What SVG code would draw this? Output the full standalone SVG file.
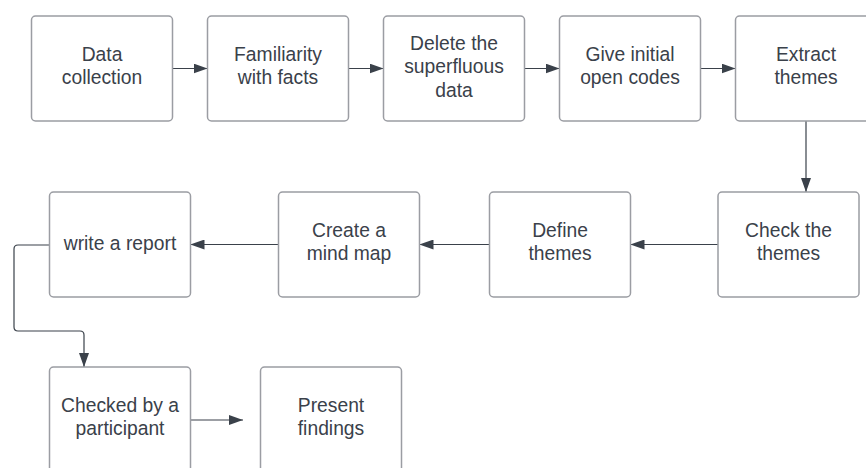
<svg xmlns="http://www.w3.org/2000/svg" width="866" height="468" viewBox="0 0 866 468">
  <style>
    .box { fill: #ffffff; stroke: #9b9da3; stroke-width: 1.5; }
    .lbl { font-family: "Liberation Sans", Arial, sans-serif; font-size: 19.3px; fill: #3a414a; text-anchor: middle; }
    .conn { fill: none; stroke: #3a414a; stroke-width: 1.2; marker-end: url(#arrow); }
  </style>
  <defs>
    <marker id="arrow" markerUnits="userSpaceOnUse" markerWidth="14" markerHeight="10" refX="14" refY="5" orient="auto">
      <path d="M0,0 L14,5 L0,10 Z" fill="#3a414a"/>
    </marker>
  </defs>
  <rect width="866" height="468" fill="#ffffff"/>

  <!-- connectors -->
  <g id="connectors">
    <path class="conn" d="M172.5,68.5 H207.5"/>
    <path class="conn" d="M348.5,68.5 H383.5"/>
    <path class="conn" d="M524.5,68.5 H559.5"/>
    <path class="conn" d="M700.5,68.5 H735.5"/>
    <path class="conn" d="M806,121 V192"/>
    <path class="conn" d="M718,244.5 H630.5"/>
    <path class="conn" d="M489.5,244.5 H419.5"/>
    <path class="conn" d="M278.5,244.5 H190.5"/>
    <path class="conn" d="M49.5,245 H18 Q14,245 14,249 V327 Q14,331 18,331 H80 Q84,331 84,335 V367"/>
    <path class="conn" d="M190.5,420 H243"/>
  </g>

  <!-- row 1 -->
  <g id="data-collection">
    <rect class="box" x="31.5" y="16" width="141" height="105" rx="4"/>
    <text class="lbl" x="102" y="61">Data</text>
    <text class="lbl" x="102" y="84.3">collection</text>
  </g>
  <g id="familiarity">
    <rect class="box" x="207.5" y="16" width="141" height="105" rx="4"/>
    <text class="lbl" x="278" y="61">Familiarity</text>
    <text class="lbl" x="278" y="84.3">with facts</text>
  </g>
  <g id="delete-superfluous">
    <rect class="box" x="383.5" y="16" width="141" height="105" rx="4"/>
    <text class="lbl" x="454" y="50">Delete the</text>
    <text class="lbl" x="454" y="73.3">superfluous</text>
    <text class="lbl" x="454" y="96.6">data</text>
  </g>
  <g id="open-codes">
    <rect class="box" x="559.5" y="16" width="141" height="105" rx="4"/>
    <text class="lbl" x="630" y="61">Give initial</text>
    <text class="lbl" x="630" y="84.3">open codes</text>
  </g>
  <g id="extract-themes">
    <rect class="box" x="735.5" y="16" width="141" height="105" rx="4"/>
    <text class="lbl" x="806" y="61">Extract</text>
    <text class="lbl" x="806" y="84.3">themes</text>
  </g>

  <!-- row 2 -->
  <g id="check-themes">
    <rect class="box" x="718" y="192" width="141" height="105" rx="4"/>
    <text class="lbl" x="788.5" y="237">Check the</text>
    <text class="lbl" x="788.5" y="260.3">themes</text>
  </g>
  <g id="define-themes">
    <rect class="box" x="489.5" y="192" width="141" height="105" rx="4"/>
    <text class="lbl" x="560" y="237">Define</text>
    <text class="lbl" x="560" y="260.3">themes</text>
  </g>
  <g id="mind-map">
    <rect class="box" x="278.5" y="192" width="141" height="105" rx="4"/>
    <text class="lbl" x="349" y="237">Create a</text>
    <text class="lbl" x="349" y="260.3">mind map</text>
  </g>
  <g id="write-report">
    <rect class="box" x="49.5" y="192" width="141" height="105" rx="4"/>
    <text class="lbl" x="120" y="250">write a report</text>
  </g>

  <!-- row 3 -->
  <g id="participant-check">
    <rect class="box" x="49.5" y="367" width="141" height="105" rx="4"/>
    <text class="lbl" x="120" y="412">Checked by a</text>
    <text class="lbl" x="120" y="435.3">participant</text>
  </g>
  <g id="present-findings">
    <rect class="box" x="260.5" y="367" width="141" height="105" rx="4"/>
    <text class="lbl" x="331" y="412">Present</text>
    <text class="lbl" x="331" y="435.3">findings</text>
  </g>
</svg>
